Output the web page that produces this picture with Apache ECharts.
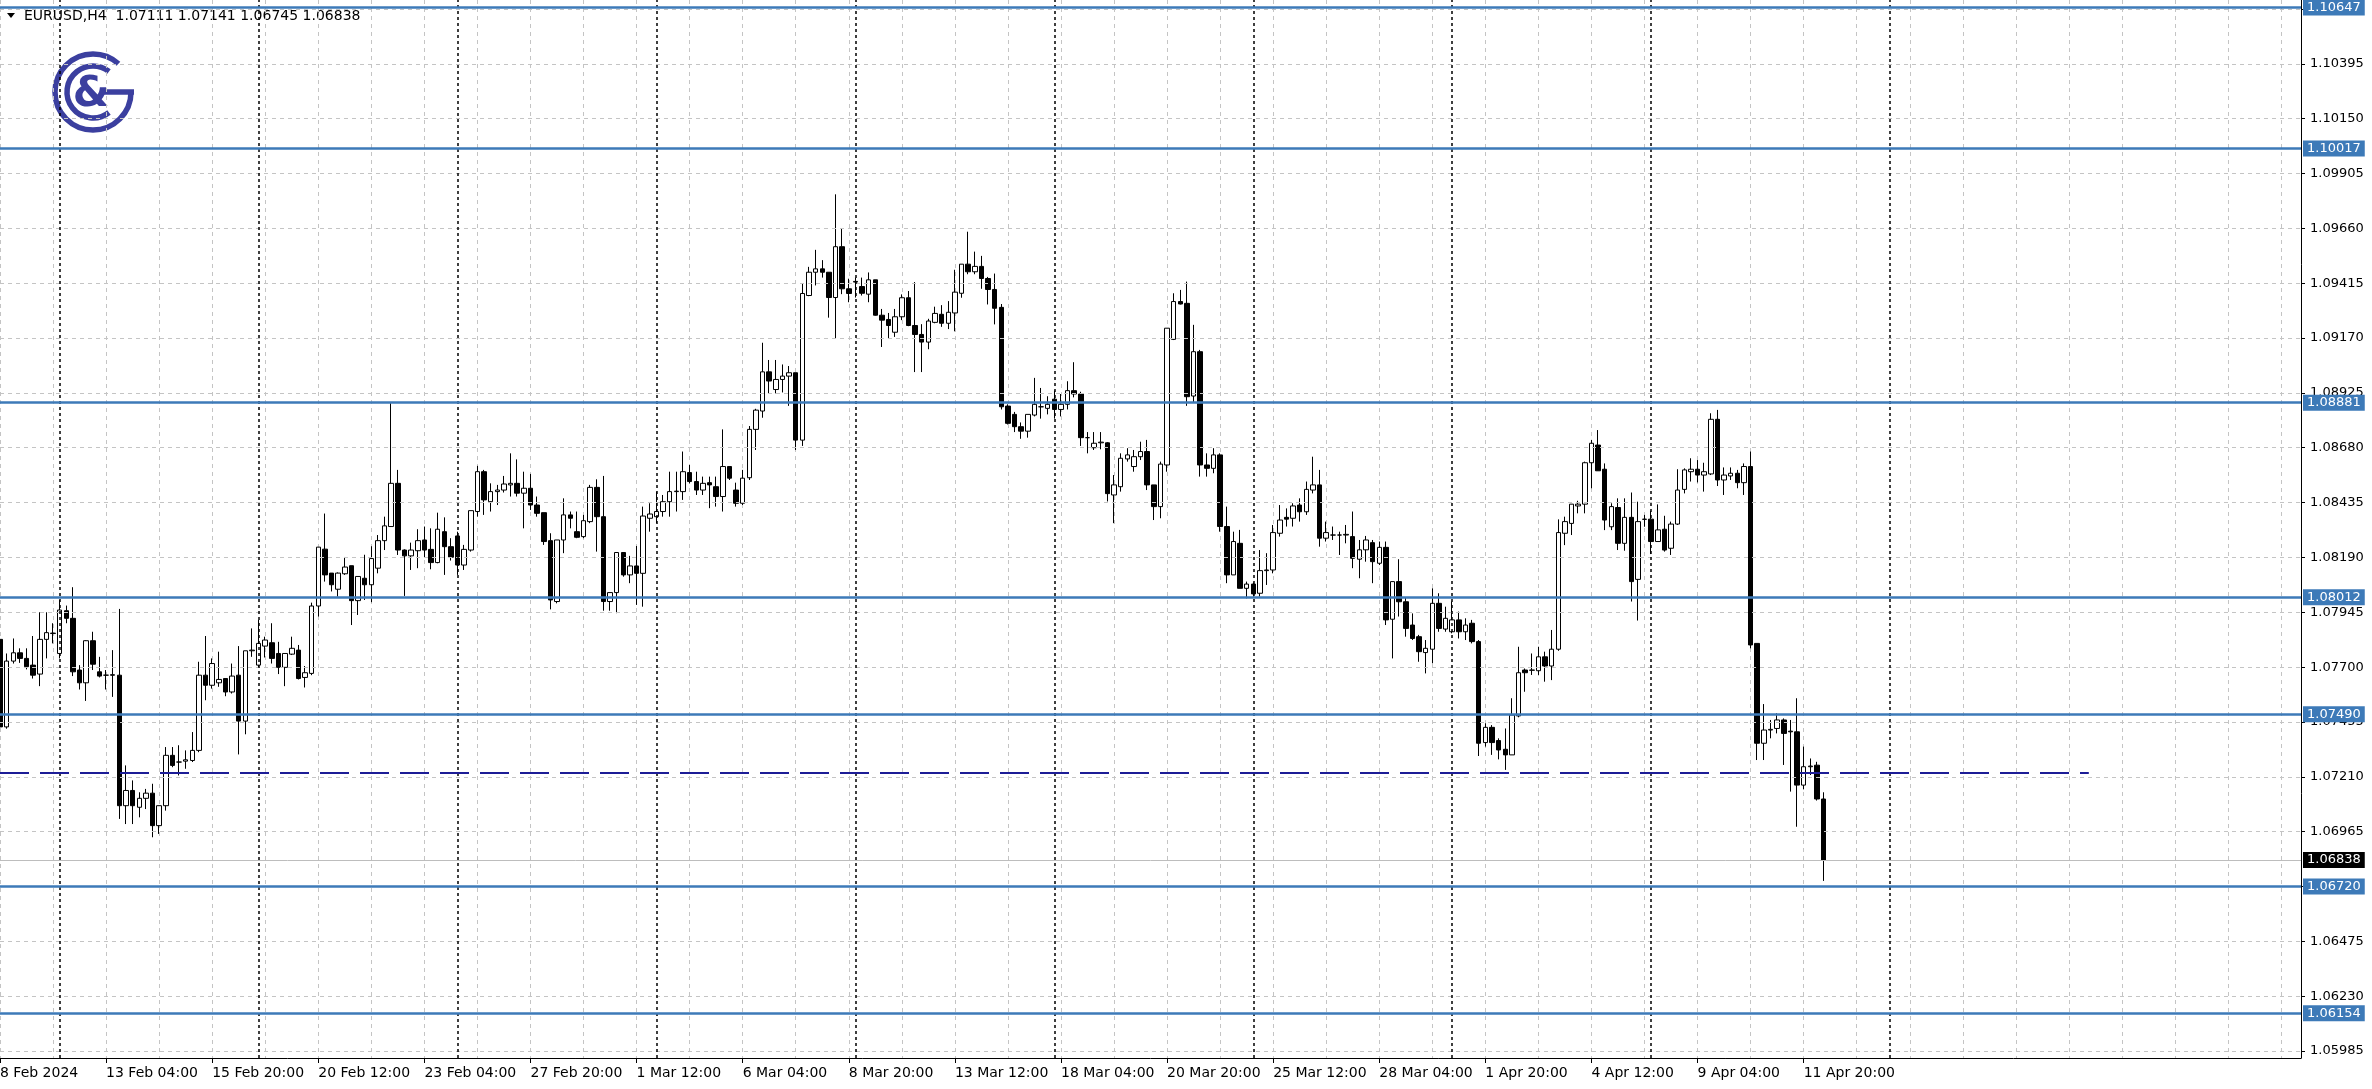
<!DOCTYPE html>
<html><head><meta charset="utf-8">
<script src="https://cdn.jsdelivr.net/npm/echarts@6/dist/echarts.min.js"></script>
<style>html,body{margin:0;padding:0;background:#fff}#c{width:2372px;height:1089px}</style>
</head><body><div id="c"></div>
<script>
// ---------- data (EURUSD H4) ----------
const opens = [
1.07824,1.07433,1.07727,1.07764,1.07739,1.07709,1.07669,1.07824,1.07850,1.07761,
1.07952,1.07918,1.07687,1.07630,1.07818,1.07679,1.07664,1.07666,1.07664,1.07081,
1.07149,1.07074,1.07114,1.07137,1.06992,1.07081,1.07306,1.07276,1.07280,1.07283,
1.07328,1.07664,1.07619,1.07630,1.07649,1.07589,1.07664,1.07459,1.07773,1.07709,
1.07794,1.07809,1.07761,1.07699,1.07758,1.07776,1.07654,1.07672,1.07973,1.08227,
1.08120,1.08048,1.08117,1.08153,1.07997,1.08097,1.08068,1.08142,1.08265,1.08328,
1.08521,1.08223,1.08197,1.08220,1.08268,1.08226,1.08167,1.08305,1.08238,1.08286,
1.08156,1.08223,1.08395,1.08573,1.08439,1.08484,1.08491,1.08514,1.08521,1.08477,
1.08499,1.08424,1.08390,1.08265,1.07993,1.08268,1.08380,1.08305,1.08283,1.08350,
1.08503,1.08372,1.07993,1.08033,1.08212,1.08112,1.08152,1.08119,1.08365,1.08372,
1.08395,1.08439,1.08484,1.08484,1.08569,1.08529,1.08491,1.08524,1.08506,1.08462,
1.08596,1.08491,1.08432,1.08546,1.08762,1.08844,1.09019,1.08940,1.08985,1.09000,
1.09015,1.08714,1.09360,1.09464,1.09479,1.09464,1.09351,1.09578,1.09390,1.09420,
1.09400,1.09366,1.09430,1.09272,1.09253,1.09196,1.09265,1.09350,1.09226,1.09186,
1.09152,1.09240,1.09276,1.09236,1.09282,1.09370,1.09500,1.09466,1.09490,1.09436,
1.09387,1.09307,1.08866,1.08829,1.08774,1.08754,1.08826,1.08863,1.08856,1.08897,
1.08851,1.08874,1.08935,1.08920,1.08725,1.08680,1.08702,1.08702,1.08469,1.08506,
1.08630,1.08596,1.08640,1.08663,1.08514,1.08417,1.08603,1.09164,1.09333,1.09325,
1.08911,1.09109,1.08603,1.08588,1.08648,1.08328,1.08112,1.08253,1.08052,1.08071,
1.08030,1.08131,1.08134,1.08298,1.08369,1.08365,1.08424,1.08394,1.08491,1.08514,
1.08276,1.08290,1.08290,1.08290,1.08283,1.08182,1.08224,1.08256,1.08164,1.08235,
1.07914,1.08082,1.07992,1.07888,1.07836,1.07765,1.07780,1.07985,1.07870,1.07858,
1.07911,1.07858,1.07896,1.07814,1.07363,1.07431,1.07372,1.07333,1.07308,1.07482,
1.07687,1.07686,1.07684,1.07746,1.07705,1.07780,1.08298,1.08342,1.08420,1.08428,
1.08613,1.08692,1.08584,1.08327,1.08413,1.08253,1.08369,1.08092,1.08360,1.08361,
1.08261,1.08316,1.08231,1.08339,1.08494,1.08573,1.08584,1.08558,1.08563,1.08807,
1.08536,1.08554,1.08566,1.08524,1.08596,1.07806,1.07360,1.07419,1.07426,1.07464,
1.07414,1.07411,1.07173,1.07255,1.07262,1.07111];
const highs = [
1.07855,1.07761,1.07828,1.07784,1.07784,1.07839,1.07945,1.07945,1.07896,1.08000,
1.07975,1.08057,1.07709,1.07820,1.07858,1.07746,1.07687,1.07776,1.07960,1.07261,
1.07194,1.07141,1.07156,1.07179,1.07081,1.07343,1.07343,1.07351,1.07328,1.07410,
1.07724,1.07839,1.07739,1.07769,1.07649,1.07716,1.07794,1.07773,1.07873,1.07911,
1.07836,1.07896,1.07813,1.07761,1.07836,1.07799,1.07705,1.07988,1.08236,1.08386,
1.08120,1.08123,1.08192,1.08153,1.08105,1.08202,1.08240,1.08290,1.08372,1.08879,
1.08581,1.08226,1.08256,1.08316,1.08328,1.08320,1.08390,1.08369,1.08276,1.08305,
1.08246,1.08399,1.08599,1.08581,1.08521,1.08514,1.08554,1.08655,1.08628,1.08573,
1.08563,1.08462,1.08390,1.08298,1.08268,1.08454,1.08395,1.08395,1.08380,1.08514,
1.08539,1.08554,1.08033,1.08212,1.08212,1.08197,1.08241,1.08417,1.08432,1.08484,
1.08469,1.08573,1.08573,1.08663,1.08603,1.08573,1.08551,1.08551,1.08551,1.08762,
1.08596,1.08524,1.08581,1.08777,1.08854,1.09149,1.09072,1.09072,1.09052,1.09045,
1.09015,1.09414,1.09488,1.09564,1.09518,1.09464,1.09812,1.09658,1.09435,1.09440,
1.09440,1.09463,1.09430,1.09300,1.09282,1.09300,1.09365,1.09380,1.09420,1.09232,
1.09256,1.09310,1.09317,1.09335,1.09475,1.09500,1.09645,1.09556,1.09537,1.09443,
1.09458,1.09322,1.08874,1.08840,1.08793,1.08829,1.08992,1.08947,1.08910,1.08935,
1.08920,1.08977,1.09062,1.08930,1.08750,1.08750,1.08750,1.08705,1.08558,1.08655,
1.08678,1.08670,1.08707,1.08715,1.08514,1.08618,1.09214,1.09370,1.09385,1.09422,
1.09229,1.09117,1.08655,1.08678,1.08655,1.08417,1.08305,1.08313,1.08082,1.08078,
1.08223,1.08209,1.08335,1.08424,1.08409,1.08432,1.08454,1.08529,1.08640,1.08581,
1.08350,1.08328,1.08305,1.08335,1.08395,1.08268,1.08286,1.08268,1.08261,1.08261,
1.08082,1.08182,1.08012,1.07940,1.07844,1.07821,1.08052,1.08030,1.07970,1.07993,
1.07948,1.07918,1.07911,1.07821,1.07449,1.07441,1.07382,1.07426,1.07561,1.07791,
1.07694,1.07761,1.07791,1.07769,1.07866,1.08360,1.08372,1.08428,1.08443,1.08618,
1.08715,1.08759,1.08610,1.08432,1.08454,1.08454,1.08480,1.08439,1.08380,1.08398,
1.08427,1.08376,1.08350,1.08584,1.08588,1.08633,1.08625,1.08613,1.08834,1.08849,
1.08592,1.08592,1.08581,1.08610,1.08663,1.07806,1.07535,1.07464,1.07494,1.07471,
1.07464,1.07561,1.07345,1.07292,1.07277,1.07141];
const lows = [
1.07410,1.07425,1.07716,1.07719,1.07690,1.07649,1.07615,1.07739,1.07806,1.07739,
1.07896,1.07660,1.07600,1.07549,1.07687,1.07654,1.07600,1.07567,1.07022,1.06999,
1.06999,1.07029,1.07066,1.06940,1.06955,1.07059,1.07253,1.07216,1.07246,1.07276,
1.07320,1.07552,1.07604,1.07612,1.07570,1.07582,1.07310,1.07400,1.07746,1.07698,
1.07743,1.07716,1.07669,1.07615,1.07754,1.07645,1.07609,1.07664,1.07926,1.08082,
1.08038,1.08015,1.08112,1.07888,1.07933,1.08000,1.07990,1.08119,1.08223,1.08328,
1.08201,1.08018,1.08134,1.08142,1.08191,1.08137,1.08164,1.08112,1.08176,1.08112,
1.08134,1.08216,1.08372,1.08380,1.08395,1.08424,1.08480,1.08462,1.08462,1.08320,
1.08402,1.08372,1.08246,1.07958,1.07985,1.08209,1.08320,1.08276,1.08276,1.08343,
1.08216,1.07952,1.07952,1.07941,1.08104,1.08075,1.07978,1.07970,1.08305,1.08343,
1.08372,1.08372,1.08395,1.08447,1.08521,1.08469,1.08469,1.08410,1.08417,1.08395,
1.08536,1.08417,1.08424,1.08536,1.08670,1.08814,1.08923,1.08923,1.08927,1.08867,
1.08670,1.08688,1.09357,1.09405,1.09440,1.09261,1.09167,1.09366,1.09330,1.09351,
1.09360,1.09330,1.09270,1.09130,1.09167,1.09175,1.09250,1.09223,1.09018,1.09018,
1.09120,1.09236,1.09220,1.09210,1.09200,1.09350,1.09455,1.09455,1.09390,1.09320,
1.09231,1.08851,1.08784,1.08750,1.08720,1.08725,1.08820,1.08810,1.08829,1.08810,
1.08820,1.08851,1.08905,1.08688,1.08655,1.08670,1.08673,1.08440,1.08343,1.08484,
1.08618,1.08573,1.08625,1.08491,1.08357,1.08365,1.08573,1.09161,1.09320,1.08867,
1.08881,1.08551,1.08551,1.08566,1.08305,1.08075,1.08112,1.08052,1.08007,1.08015,
1.08015,1.08067,1.08119,1.08283,1.08328,1.08328,1.08350,1.08380,1.08476,1.08238,
1.08261,1.08268,1.08201,1.08253,1.08142,1.08097,1.08171,1.08075,1.08156,1.07888,
1.07739,1.07926,1.07836,1.07821,1.07724,1.07672,1.07717,1.07858,1.07858,1.07851,
1.07828,1.07821,1.07806,1.07303,1.07345,1.07308,1.07288,1.07241,1.07308,1.07476,
1.07590,1.07665,1.07665,1.07635,1.07642,1.07773,1.08245,1.08290,1.08387,1.08387,
1.08499,1.08577,1.08312,1.08312,1.08223,1.08220,1.07993,1.07908,1.08327,1.08205,
1.08261,1.08216,1.08201,1.08335,1.08476,1.08529,1.08525,1.08484,1.08558,1.08509,
1.08469,1.08536,1.08499,1.08469,1.07784,1.07285,1.07285,1.07382,1.07404,1.07263,
1.07144,1.06987,1.07154,1.07218,1.07104,1.06745];
const closes = [
1.07433,1.07727,1.07764,1.07739,1.07702,1.07664,1.07824,1.07854,1.07852,1.07955,
1.07918,1.07679,1.07630,1.07818,1.07713,1.07660,1.07664,1.07664,1.07081,1.07149,
1.07081,1.07114,1.07137,1.06992,1.07081,1.07306,1.07261,1.07276,1.07286,1.07328,
1.07664,1.07619,1.07716,1.07645,1.07589,1.07660,1.07459,1.07773,1.07776,1.07806,
1.07821,1.07739,1.07699,1.07761,1.07784,1.07649,1.07675,1.07973,1.08236,1.08112,
1.08068,1.08120,1.08147,1.07997,1.08105,1.08068,1.08185,1.08265,1.08331,1.08521,
1.08223,1.08197,1.08223,1.08265,1.08223,1.08167,1.08316,1.08238,1.08191,1.08156,
1.08226,1.08399,1.08573,1.08447,1.08484,1.08491,1.08518,1.08521,1.08477,1.08499,
1.08424,1.08387,1.08261,1.08000,1.08268,1.08380,1.08365,1.08280,1.08354,1.08503,
1.08372,1.07993,1.08033,1.08212,1.08112,1.08152,1.08119,1.08375,1.08384,1.08395,
1.08439,1.08484,1.08486,1.08573,1.08529,1.08491,1.08521,1.08514,1.08462,1.08596,
1.08544,1.08432,1.08544,1.08762,1.08848,1.09019,1.08978,1.08985,1.09000,1.09015,
1.08714,1.09369,1.09464,1.09479,1.09464,1.09351,1.09578,1.09390,1.09369,1.09423,
1.09370,1.09430,1.09272,1.09250,1.09226,1.09265,1.09350,1.09226,1.09186,1.09152,
1.09246,1.09280,1.09236,1.09285,1.09375,1.09500,1.09466,1.09490,1.09436,1.09387,
1.09303,1.08863,1.08789,1.08774,1.08754,1.08829,1.08874,1.08863,1.08874,1.08851,
1.08874,1.08935,1.08920,1.08725,1.08725,1.08700,1.08705,1.08475,1.08514,1.08633,
1.08648,1.08640,1.08663,1.08514,1.08417,1.08607,1.09214,1.09333,1.09322,1.08908,
1.09109,1.08603,1.08588,1.08648,1.08328,1.08112,1.08261,1.08052,1.08071,1.08027,
1.08131,1.08134,1.08301,1.08357,1.08361,1.08420,1.08394,1.08494,1.08514,1.08276,
1.08301,1.08290,1.08290,1.08293,1.08186,1.08224,1.08268,1.08171,1.08235,1.07911,
1.08082,1.07992,1.07873,1.07828,1.07769,1.07784,1.07985,1.07873,1.07918,1.07911,
1.07858,1.07888,1.07814,1.07360,1.07431,1.07363,1.07330,1.07308,1.07486,1.07675,
1.07675,1.07687,1.07746,1.07705,1.07780,1.08301,1.08350,1.08428,1.08428,1.08613,
1.08700,1.08577,1.08357,1.08417,1.08253,1.08369,1.08082,1.08350,1.08361,1.08261,
1.08313,1.08223,1.08339,1.08491,1.08581,1.08584,1.08558,1.08573,1.08807,1.08536,
1.08558,1.08566,1.08524,1.08596,1.07799,1.07360,1.07419,1.07422,1.07464,1.07404,
1.07411,1.07173,1.07255,1.07258,1.07111,1.06838];

// x-axis tick labels, one every 16 bars starting at bar 0
const xLabels = ['8 Feb 2024','13 Feb 04:00','15 Feb 20:00','20 Feb 12:00','23 Feb 04:00',
  '27 Feb 20:00','1 Mar 12:00','6 Mar 04:00','8 Mar 20:00','13 Mar 12:00','18 Mar 04:00',
  '20 Mar 20:00','25 Mar 12:00','28 Mar 04:00','1 Apr 20:00','4 Apr 12:00','9 Apr 04:00','11 Apr 20:00'];
// price scale tick labels
const yTicks = [1.05985,1.06230,1.06475,1.06720,1.06965,1.07210,1.07455,1.07700,1.07945,
  1.08190,1.08435,1.08680,1.08925,1.09170,1.09415,1.09660,1.09905,1.10150,1.10395,1.10640];
// horizontal support/resistance levels
const levels = [1.10647,1.10017,1.08881,1.08012,1.07490,1.06720,1.06154];
const currentPrice = 1.06838;
const dashedLevel = 1.07230;
const dashedEndBar = 315;
// bars where a new week starts (period separators)
const weekStarts = [9,39,69,99,129,159,189,219,249,285];
const totalSlots = 348;

// ---------- chart ----------
const FONT = 'DejaVu Sans';
const cats = Array.from({length: totalSlots}, (_, i) => String(i));
const candles = opens.map((o, i) => [o, closes[i], lows[i], highs[i]]);
const last = opens.length - 1;
const LOGO = '#3b3f9f';
const LEVEL = '#3d7ab8';
const deg = Math.PI / 180;
const isLabelIdx = i => i % 16 === 0 && i / 16 < xLabels.length;

const chart = echarts.init(document.getElementById('c'), null, {renderer: 'canvas'});
chart.setOption({
  animation: false,
  backgroundColor: '#ffffff',
  grid: {left: 0, right: 71, top: 0, bottom: 31, containLabel: false, outerBoundsMode: 'none'},
  xAxis: {
    type: 'category', data: cats, boundaryGap: false,
    axisLine: {show: true, lineStyle: {color: '#000', width: 1}},
    axisTick: {show: true, interval: isLabelIdx, length: 5, lineStyle: {color: '#000'}},
    axisLabel: {interval: isLabelIdx, formatter: (v, i) => xLabels[i / 16] || '',
      align: 'left', color: '#000', fontFamily: FONT, fontSize: 14, margin: 8},
    splitLine: {show: true, interval: i => i % 8 === 0,
      lineStyle: {color: '#c4c4c4', type: [4, 4], width: 1}}
  },
  yAxis: {
    type: 'value', position: 'right', min: 1.05954, max: 1.10680,
    axisLine: {show: true, onZero: false, lineStyle: {color: '#000', width: 1}},
    axisTick: {show: true, length: 4, customValues: yTicks, lineStyle: {color: '#000'}},
    axisLabel: {customValues: yTicks, formatter: v => v.toFixed(5), color: '#000',
      fontFamily: FONT, fontSize: 13, margin: 9},
    splitLine: {show: false}
  },
  graphic: [
    {type: 'polygon', shape: {points: [[7, 13], [15, 13], [11, 18]]}, style: {fill: '#000'}},
    {type: 'text', x: 24, y: 16, style: {
      text: 'EURUSD,H4  ' + [opens[last], highs[last], lows[last], closes[last]].map(v => v.toFixed(5)).join(' '),
      fill: '#000', fontFamily: FONT, fontSize: 14, verticalAlign: 'middle', align: 'left'}},
    {type: 'arc', shape: {cx: 93, cy: 92, r: 38, startAngle: 0, endAngle: 312 * deg, clockwise: true},
      style: {stroke: LOGO, lineWidth: 5.5, fill: null}},
    {type: 'line', shape: {x1: 101, y1: 92, x2: 134, y2: 92}, style: {stroke: LOGO, lineWidth: 5.5}},
    {type: 'arc', shape: {cx: 93, cy: 92, r: 26, startAngle: 52 * deg, endAngle: 308 * deg, clockwise: true},
      style: {stroke: LOGO, lineWidth: 5.5, fill: null}},
    {type: 'text', x: 91, y: 95, style: {text: '&', fill: LOGO, fontFamily: FONT, fontSize: 42,
      fontWeight: 'bold', align: 'center', verticalAlign: 'middle'}}
  ],
  series: [
    { // price grid lines
      type: 'line', data: [], z: 1, silent: true,
      markLine: {
        silent: true, symbol: ['none', 'none'], precision: 5, label: {show: false},
        lineStyle: {color: '#c4c4c4', type: [4, 4], width: 1},
        emphasis: {disabled: true},
        data: yTicks.map(v => ({yAxis: v}))
      }
    },
    { // separators, levels, current price
      type: 'line', data: [], z: 2, silent: true,
      markLine: {
        silent: true, symbol: ['none', 'none'], precision: 5,
        emphasis: {disabled: true},
        data: [
          ...weekStarts.map(b => ({xAxis: String(b), label: {show: false},
            lineStyle: {color: '#000', type: [3, 3], width: 1.5}})),
          [{coord: ['0', dashedLevel], label: {show: false},
            lineStyle: {color: '#1c1c96', type: [29, 11], width: 2}},
           {coord: [String(dashedEndBar), dashedLevel]}],
          {yAxis: currentPrice, name: currentPrice.toFixed(5),
            lineStyle: {color: '#bdbdbd', type: 'solid', width: 1},
            label: {show: true, position: 'end', distance: 2, formatter: '{b}', color: '#fff',
              backgroundColor: '#000', fontFamily: FONT, fontSize: 13, padding: [2, 4, 1, 4]}},
          ...levels.map(v => ({yAxis: v, name: v.toFixed(5),
            lineStyle: {color: LEVEL, type: 'solid', width: 2.5},
            label: {show: true, position: 'end', distance: 2, formatter: '{b}', color: '#fff',
              backgroundColor: LEVEL, fontFamily: FONT, fontSize: 13, padding: [2, 4, 1, 4]}}))
        ]
      }
    },
    {
      type: 'candlestick', z: 3, barWidth: 5, silent: true,
      data: candles,
      itemStyle: {color: '#ffffff', color0: '#000000', borderColor: '#000000',
        borderColor0: '#000000', borderColorDoji: '#000000', borderWidth: 1}
    }
  ]
});
</script></body></html>
